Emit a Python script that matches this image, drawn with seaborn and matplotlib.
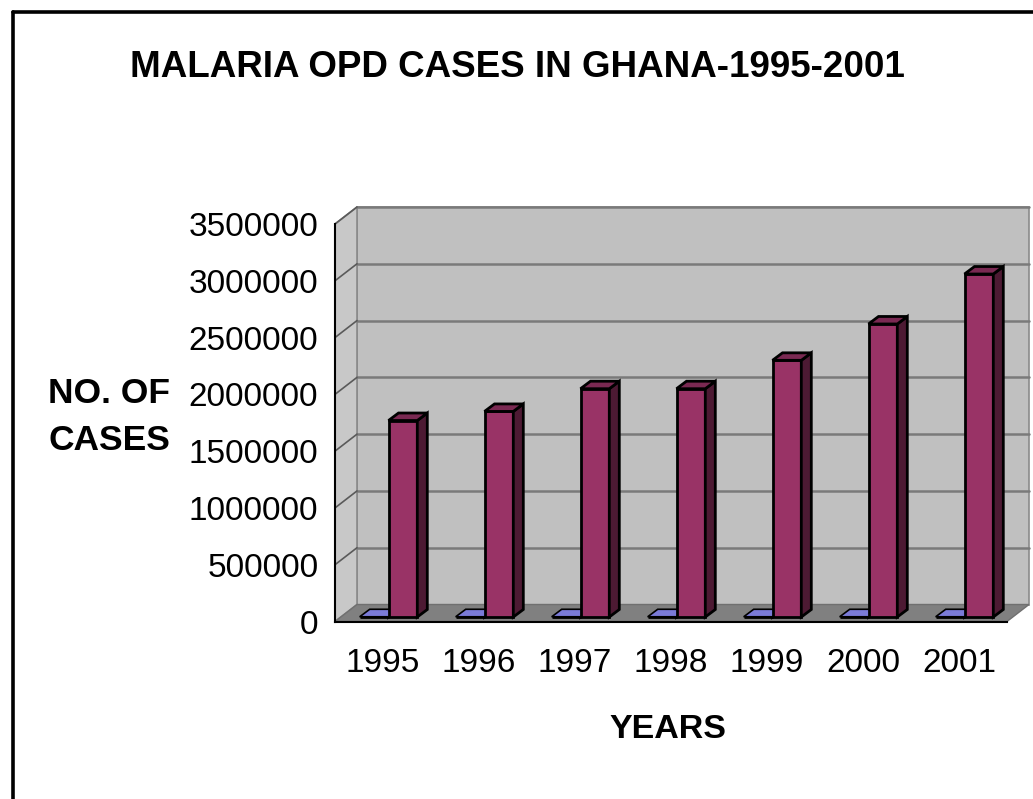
import numpy as np
import pandas as pd
import matplotlib
matplotlib.use("Agg")
import matplotlib.pyplot as plt
import seaborn as sns
from matplotlib.patches import Polygon, Rectangle
from matplotlib.lines import Line2D
from matplotlib.transforms import ScaledTranslation, IdentityTransform

# ---- data ----
years = ["1995", "1996", "1997", "1998", "1999", "2000", "2001"]
year_series = [1995, 1996, 1997, 1998, 1999, 2000, 2001]          # "Year" column charted as a series
cases = [1730000, 1810000, 2010000, 2010000, 2260000, 2580000, 3020000]
yticks = [0, 500000, 1000000, 1500000, 2000000, 2500000, 3000000, 3500000]
series_names = ["Year", "Cases"]

df = pd.DataFrame({
    "year": years * 2,
    "series": [series_names[0]] * len(years) + [series_names[1]] * len(years),
    "value": year_series + cases,
})

sns.set_theme(style="white")
plt.rcParams["font.family"] = ["Liberation Sans", "DejaVu Sans"]
plt.rcParams["text.color"] = "black"
plt.rcParams["axes.labelcolor"] = "black"

W, H, DPI = 1033, 799, 100
fig = plt.figure(figsize=(W / DPI, H / DPI), dpi=DPI)
fig.patch.set_facecolor("white")

# front plane of the 3D box (pixels from top-left)
x0, x1 = 335, 1007
yb, yt = 621.5, 224
ax = fig.add_axes([x0 / W, (H - yb) / H, (x1 - x0) / W, (yb - yt) / H])
ax.set_facecolor("none")

front_cols = ["#9999FF", "#993366"]
top_cols = ["#7B7BD8", "#7A2952"]
side_cols = ["#5C5CA8", "#4D1A33"]

sns.barplot(data=df, x="year", y="value", hue="series", hue_order=series_names,
            palette=front_cols, width=0.6, saturation=1, edgecolor="black",
            linewidth=2.0, legend=False, ax=ax, zorder=5)

ax.set_xlim(-0.5, len(years) - 0.5)
ax.set_ylim(0, 3500000)

# wall depth (pixels) and bar depth
DX, DY = 22, 17
BX, BY = 5.5, 4.5      # bars sit slightly behind the front plane
bdx, bdy = 10, 7.5     # bar depth

def disp(pts, trans):
    return trans.transform(np.asarray(pts, dtype=float))

# ---- walls ----
A = ax.transAxes
wall_t = A + ScaledTranslation(DX / DPI, DY / DPI, fig.dpi_scale_trans)
ax.add_patch(Rectangle((0, 0), 1, 1, transform=wall_t, facecolor="#C0C0C0",
                       edgecolor="#8A8A8A", lw=1.2, zorder=0, clip_on=False))
fl, fr = disp([(0, 0), (1, 0)], A)
fl_t = disp([(0, 1)], A)[0]
side = [fl, fl_t, fl_t + [DX, DY], fl + [DX, DY]]
ax.add_patch(Polygon(side, closed=True, transform=IdentityTransform(), facecolor="#C8C8C8",
                     edgecolor="#8A8A8A", lw=1.2, zorder=0.5, clip_on=False))
floor = [fl, fr, fr + [DX, DY], fl + [DX, DY]]
ax.add_patch(Polygon(floor, closed=True, transform=IdentityTransform(), facecolor="#808080",
                     edgecolor="#707070", lw=1.0, zorder=1, clip_on=False))

# gridlines on back and side walls
xl = ax.get_xlim()
for v in yticks[1:]:
    p0, p1 = disp([(xl[0], v), (xl[1], v)], ax.transData)
    ax.add_line(Line2D([p0[0] + DX, p1[0] + DX], [p0[1] + DY, p1[1] + DY], transform=IdentityTransform(),
                       color="#7A7A7A", lw=1.8, zorder=2, clip_on=False))
    ax.add_line(Line2D([p0[0], p0[0] + DX], [p0[1], p0[1] + DY], transform=IdentityTransform(),
                       color="#5A5A5A", lw=1.2, zorder=2, clip_on=False))

# ---- 3D bars ----
bar_t = ax.transData + ScaledTranslation(BX / DPI, BY / DPI, fig.dpi_scale_trans)
for i, cont in enumerate(ax.containers):
    for p in cont.patches:
        p.set_transform(bar_t)
        p.set_clip_on(False)
        p.set_zorder(5 + i)
        bx, by, bw, bh = p.get_x(), p.get_y(), p.get_width(), p.get_height()
        tl, tr, br = disp([(bx, by + bh), (bx + bw, by + bh), (bx + bw, by)], bar_t)
        d = np.array([bdx, bdy])
        top = [tl, tr, tr + d, tl + d]
        sid = [tr, br, br + d, tr + d]
        ax.add_patch(Polygon(sid, closed=True, transform=IdentityTransform(), facecolor=side_cols[i],
                             edgecolor="black", lw=2.0, zorder=5 + i, clip_on=False, joinstyle="miter"))
        ax.add_patch(Polygon(top, closed=True, transform=IdentityTransform(), facecolor=top_cols[i],
                             edgecolor="black", lw=2.0 if i else 1.2, zorder=5 + i, clip_on=False,
                             joinstyle="miter"))

# ---- axes / ticks ----
for s in ["top", "right"]:
    ax.spines[s].set_visible(False)
for s in ["left", "bottom"]:
    ax.spines[s].set_color("black")
    ax.spines[s].set_linewidth(1.5)
    ax.spines[s].set_zorder(4)

ax.set_yticks(yticks)
ax.set_yticklabels([str(v) for v in yticks], fontsize=24)
ax.tick_params(axis="y", which="major", direction="out", length=5, width=1.3, pad=7, colors="black")
ax.set_xticks(np.arange(len(years)))
ax.set_xticklabels(years, fontsize=24)
ax.set_xticks(np.arange(-0.5, len(years)), minor=True)
ax.tick_params(axis="x", which="major", length=0, pad=19, colors="black")
ax.tick_params(axis="x", which="minor", direction="out", length=6, width=1.3, color="black")
ax.grid(False)

ax.set_xlabel("YEARS", fontsize=24.5, fontweight="bold", labelpad=0, color="black")
ax.xaxis.set_label_coords((668 - x0) / (x1 - x0), (yb - 714) / (yb - yt))
ax.set_ylabel("NO. OF\nCASES", fontsize=25.5, fontweight="bold", rotation=0,
              ha="left", va="center", linespacing=1.55, color="black")
ax.yaxis.set_label_coords((48 - x0) / (x1 - x0), (yb - 417) / (yb - yt))

fig.text(517 / W, 1 - 77 / H, "MALARIA OPD CASES IN GHANA-1995-2001", fontsize=26.5,
         fontweight="bold", ha="center", va="baseline", color="black")

# outer frame (top and left edges visible)
fx, fy = 12.5 / W, 1 - 11.5 / H
fig.add_artist(Line2D([fx, fx], [-0.01, fy], transform=fig.transFigure, color="black", lw=2.6))
fig.add_artist(Line2D([fx, 1.01], [fy, fy], transform=fig.transFigure, color="black", lw=2.6))

fig.savefig("out.png", dpi=DPI)
